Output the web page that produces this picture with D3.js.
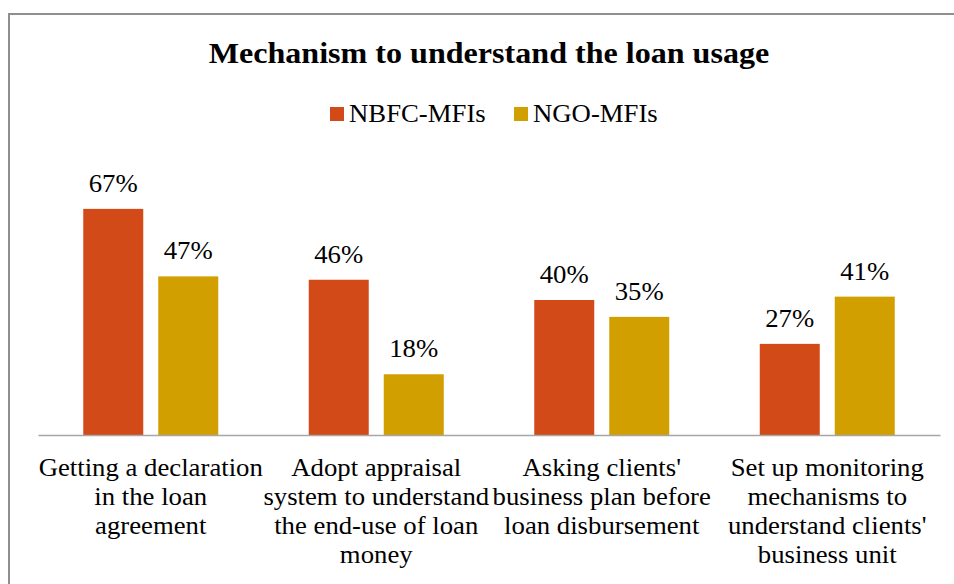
<!DOCTYPE html>
<html>
<head>
<meta charset="utf-8">
<script src="https://cdn.jsdelivr.net/npm/d3@7"></script>
<style>
  body { margin: 0; background: #fff; }
  svg text { font-family: "Liberation Serif", "Times New Roman", serif; fill: #000; }
</style>
</head>
<body>
<div id="chart"></div>
<script>
const categories = [
    "Getting a declaration in the loan agreement",
    "Adopt appraisal system to understand the end-use of loan money",
    "Asking clients' business plan before loan disbursement",
    "Set up monitoring mechanisms to understand clients' business unit"
];
const categoryLines = [
    ["Getting a declaration", "in the loan", "agreement"],
    ["Adopt appraisal", "system to understand", "the end-use of loan", "money"],
    ["Asking clients'", "business plan before", "loan disbursement"],
    ["Set up monitoring", "mechanisms to", "understand clients'", "business unit"]
];
const seriesNames = ["NBFC-MFIs", "NGO-MFIs"];
const nbfcValues = [67, 46, 40, 27];
const ngoValues = [47, 18, 35, 41];
const colors = ["#D24A18", "#D29F00"];

const width = 954;
const height = 584;
const margin = { top: 165, right: 14, bottom: 149, left: 38 };
const SX = 1.07; // the reference text is a little wider than the font

const svg = d3.select("#chart")
    .append("svg")
    .attr("width", width)
    .attr("height", height);

// chart border
svg.append("rect")
    .attr("x", 9)
    .attr("y", 14)
    .attr("width", 980)
    .attr("height", 620)
    .attr("fill", "none")
    .attr("stroke", "#8f8f8f")
    .attr("stroke-width", 2);

function label(x, y, txt, size, weight, anchor) {
    return svg.append("text")
        .attr("transform", `translate(${x},${y}) scale(${SX},1)`)
        .attr("text-anchor", anchor || "middle")
        .style("font-size", size + "px")
        .style("font-weight", weight || "normal")
        .text(txt);
}

const x0 = d3.scaleBand()
    .domain(categories)
    .range([margin.left, width - margin.right])
    .paddingInner(0)
    .paddingOuter(0);

const x1 = d3.scaleBand()
    .domain(seriesNames)
    .range([45.25, x0.bandwidth() - 45.25])
    .paddingInner(0.2);

const y = d3.scaleLinear()
    .domain([0, 80])
    .range([height - margin.bottom, height - margin.bottom - 270]);

const rows = categories.map((c, i) => ({ cat: c, values: [nbfcValues[i], ngoValues[i]] }));

svg.selectAll("g.bar")
    .data(rows)
    .enter()
    .append("g")
    .attr("class", "bar")
    .each(function (d) {
        d.values.forEach((v, j) => {
            const bx = x0(d.cat) + x1(seriesNames[j]);
            svg.append("rect")
                .attr("x", bx)
                .attr("y", y(v))
                .attr("width", x1.bandwidth())
                .attr("height", y(0) - y(v))
                .attr("fill", colors[j]);
            label(bx + x1.bandwidth() / 2, y(v) - 17, v + "%", 25);
        });
    });

// axis line
svg.append("g")
    .attr("transform", `translate(0,${y(0)})`)
    .call(d3.axisBottom(x0).tickSize(0).tickFormat(""))
    .call(g => g.select(".domain").attr("stroke", "#a6a6a6").attr("stroke-width", 1.5));

// category labels
categories.forEach((c, i) => {
    const cx = x0(c) + x0.bandwidth() / 2;
    categoryLines[i].forEach((line, k) => {
        label(cx, 476 + k * 29, line, 25);
    });
});

// title
label(489, 63, "Mechanism to understand the loan usage", 30, "bold");

// legend
const legendX = [330, 514];
seriesNames.forEach((s, i) => {
    svg.append("rect")
        .attr("x", legendX[i])
        .attr("y", 107)
        .attr("width", 14)
        .attr("height", 14)
        .attr("fill", colors[i]);
    label(legendX[i] + 19, 122, s, 25, "normal", "start");
});
</script>
</body>
</html>
